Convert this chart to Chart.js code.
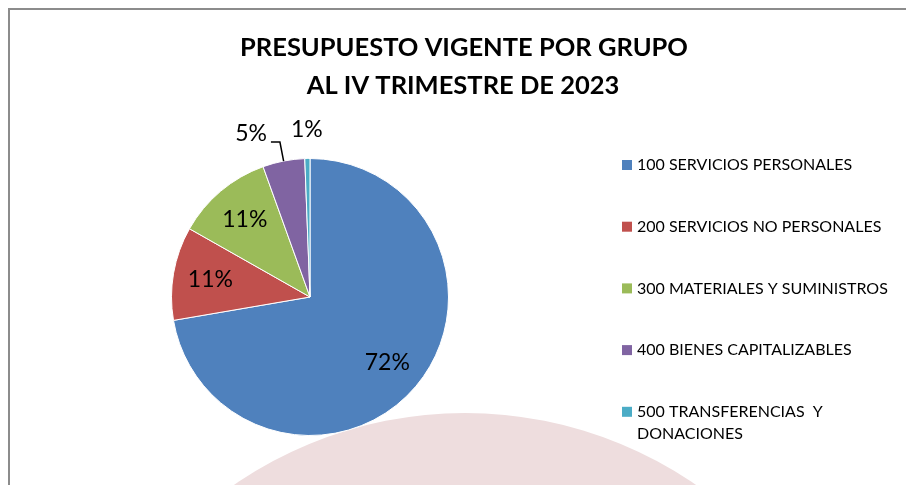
<!DOCTYPE html>
<html>
<head>
<meta charset="utf-8">
<style>
  html, body { margin: 0; padding: 0; background: #fff; }
  canvas { display: block; }
</style>
<script src="https://cdn.jsdelivr.net/npm/chart.js@4/dist/chart.umd.min.js"></script>
</head>
<body>
<canvas id="pie" width="906" height="485"></canvas>
<script>
// chart data
const categories = [
  '100 SERVICIOS PERSONALES',
  '200 SERVICIOS NO PERSONALES',
  '300 MATERIALES Y SUMINISTROS',
  '400 BIENES CAPITALIZABLES',
  '500 TRANSFERENCIAS  Y DONACIONES'
];
const shares = [72.3, 10.9, 11.3, 4.9, 0.6];
const sliceColors = ['#4F81BD', '#C0504D', '#9BBB59', '#8064A2', '#4BACC6'];
const titleLines = ['PRESUPUESTO VIGENTE POR GRUPO', 'AL IV TRIMESTRE DE 2023'];

const FONT = 'Lato, "Open Sans", sans-serif';

// frame, faint watermark circle and title, drawn under the pie
const backdrop = {
  id: 'backdrop',
  beforeDraw(chart) {
    const ctx = chart.ctx;
    ctx.save();
    ctx.fillStyle = '#EEDDDE';
    ctx.beginPath();
    ctx.arc(465, 820, 407, 0, Math.PI * 2);
    ctx.fill();

    ctx.strokeStyle = '#8C8C8C';
    ctx.lineWidth = 2;
    ctx.beginPath();
    ctx.moveTo(9, 485);
    ctx.lineTo(9, 9);
    ctx.lineTo(906, 9);
    ctx.stroke();

    ctx.fillStyle = '#000';
    ctx.textAlign = 'center';
    ctx.textBaseline = 'alphabetic';
    ctx.font = 'bold 25.5px ' + FONT;
    ctx.fillText(titleLines[0], 464, 56);
    ctx.fillText(titleLines[1], 463, 94);
    ctx.restore();
  }
};

// percentage labels on / beside the slices
const sliceLabels = {
  id: 'sliceLabels',
  afterDatasetsDraw(chart) {
    const ctx = chart.ctx;
    const meta = chart.getDatasetMeta(0);
    const data = chart.data.datasets[0].data;
    const total = data.reduce((a, b) => a + b, 0);
    ctx.save();
    ctx.font = '23px ' + FONT;
    ctx.fillStyle = '#000';
    ctx.textBaseline = 'middle';
    meta.data.forEach((arc, i) => {
      const pct = data[i] / total * 100;
      const text = Math.round(pct) + '%';
      const mid = (arc.startAngle + arc.endAngle) / 2;
      const r = arc.outerRadius;
      const cx = arc.x, cy = arc.y;
      const dx = Math.cos(mid), dy = Math.sin(mid);
      if (pct >= 8) {
        ctx.textAlign = 'center';
        ctx.fillText(text, cx + dx * r * 0.73, cy + dy * r * 0.73);
      } else if (pct >= 3) {
        // leader line then label to the left
        const x0 = cx + dx * r, y0 = cy + dy * r;
        const x1 = cx + dx * r * 1.14, y1 = cy + dy * r * 1.14;
        ctx.strokeStyle = '#000';
        ctx.lineWidth = 1.5;
        ctx.beginPath();
        ctx.moveTo(x0, y0);
        ctx.lineTo(x1, y1);
        ctx.lineTo(x1 - 9, y1);
        ctx.stroke();
        ctx.textAlign = 'right';
        ctx.fillText(text, x1 - 13, y1 - 8);
      } else {
        ctx.textAlign = 'center';
        ctx.fillText(text, cx + dx * r * 1.21, cy + dy * r * 1.21);
      }
    });
    ctx.restore();
  }
};

// legend on the right, one row per category, wrapping long names
const sideLegend = {
  id: 'sideLegend',
  afterDraw(chart) {
    const ctx = chart.ctx;
    const labels = chart.data.labels;
    const colors = chart.data.datasets[0].backgroundColor;
    const left = 622, top = 165, step = 61.7, maxW = 262;
    ctx.save();
    ctx.font = '16px ' + FONT;
    ctx.textBaseline = 'middle';
    ctx.textAlign = 'left';
    labels.forEach((label, i) => {
      const y = top + i * step;
      ctx.fillStyle = colors[i];
      ctx.fillRect(left, y - 5, 10, 10);
      ctx.fillStyle = '#000';
      // simple word wrap
      const words = label.split(' ');
      let line = '';
      let ly = y;
      words.forEach(w => {
        const test = line ? line + ' ' + w : w;
        if (line && ctx.measureText(test).width > maxW) {
          ctx.fillText(line, left + 15, ly);
          line = w;
          ly += 22;
        } else {
          line = test;
        }
      });
      if (line) ctx.fillText(line, left + 15, ly);
    });
    ctx.restore();
  }
};

new Chart(document.getElementById('pie'), {
  type: 'pie',
  data: {
    labels: categories,
    datasets: [{
      data: shares,
      backgroundColor: sliceColors,
      borderColor: '#FFFFFF',
      borderWidth: 1
    }]
  },
  options: {
    responsive: false,
    animation: false,
    layout: { padding: { top: 158, bottom: 49, left: 171, right: 457 } },
    plugins: {
      legend: { display: false },
      title: { display: false },
      tooltip: { enabled: false }
    }
  },
  plugins: [backdrop, sliceLabels, sideLegend]
});
</script>
</body>
</html>
